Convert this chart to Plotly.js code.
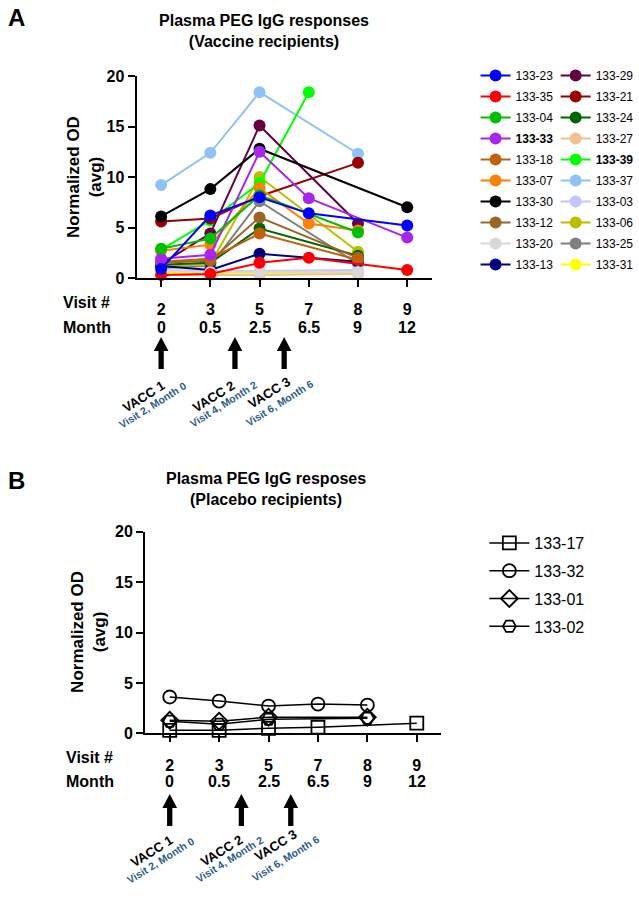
<!DOCTYPE html>
<html>
<head>
<meta charset="utf-8">
<script src="https://cdn.plot.ly/plotly-3.0.1.min.js"></script>
<style>html,body{margin:0;padding:0;background:#fff;}#chart{width:639px;height:899px;}</style>
</head>
<body>
<div id="chart"></div>
<script>
// ---------- DATA ----------
const visits = ['2', '3', '5', '7', '8', '9'];
const months = ['0', '0.5', '2.5', '6.5', '9', '12'];

// Panel A: vaccine recipients (null = not measured)
const idsA = ['133-23','133-35','133-04','133-33','133-18','133-07','133-30','133-12','133-20','133-13',
              '133-29','133-21','133-24','133-27','133-39','133-37','133-03','133-06','133-25','133-31'];
const boldA = ['133-33', '133-39'];
const v133_23 = [0.9, 6.2, 8.0, 6.4, null, 5.2];
const v133_35 = [0.3, 0.4, 1.5, 2.0, null, 0.8];
const v133_04 = [2.9, 3.9, 8.2, null, 4.5, null];
const v133_33 = [1.9, 2.3, 12.5, 7.9, null, 4.0];
const v133_18 = [1.6, 1.9, 4.4, null, 1.8, null];
const v133_07 = [2.7, 3.3, 8.9, 5.4, 4.7, null];
const v133_30 = [6.1, 8.8, 12.8, null, null, 7.0];
const v133_12 = [1.5, 1.7, 6.0, null, 2.0, null];
const v133_20 = [0.7, 0.6, 0.6, null, 0.6, null];
const v133_13 = [1.2, 0.8, 2.4, null, 1.6, null];
const v133_29 = [1.4, 4.4, 15.1, null, 5.4, null];
const v133_21 = [5.6, 5.9, 8.1, null, 11.4, null];
const v133_24 = [1.3, 1.5, 4.9, null, 2.2, null];
const v133_27 = [0.3, 0.3, 0.3, null, 0.4, null];
const v133_39 = [2.8, 5.7, 9.4, 18.4, null, null];
const v133_37 = [9.2, 12.4, 18.4, null, 12.3, null];
const v133_03 = [0.8, 0.7, 0.7, null, 0.8, null];
const v133_06 = [1.1, 1.4, 10.0, null, 2.6, null];
const v133_25 = [1.0, 1.2, 7.6, null, 1.4, null];
const v133_31 = [0.5, 0.5, 0.5, null, 0.5, null];
const valuesA = [v133_23, v133_35, v133_04, v133_33, v133_18, v133_07, v133_30, v133_12, v133_20, v133_13,
                 v133_29, v133_21, v133_24, v133_27, v133_39, v133_37, v133_03, v133_06, v133_25, v133_31];

// Panel B: placebo recipients
const idsB = ['133-17', '133-32', '133-01', '133-02'];
const v133_17 = [0.3, 0.3, 0.5, 0.6, null, 1.0];
const v133_32 = [3.6, 3.2, 2.7, 2.9, 2.8, null];
const v133_01 = [1.3, 1.2, 1.6, null, 1.6, null];
const v133_02 = [1.2, 0.9, 1.4, null, 1.5, null];
const valuesB = [v133_17, v133_32, v133_01, v133_02];

// Vaccination events
const vaccLabels = ['VACC 1', 'VACC 2', 'VACC 3'];
const vaccDetails = ['Visit 2, Month 0', 'Visit 4, Month 2', 'Visit 6, Month 6'];

// ---------- STYLE ----------
const colorsA = ['#0000FF','#FF0000','#00BF00','#A825EE','#C0600E','#FF8000','#000000','#9A6626','#D8D8D8','#000080',
                 '#660044','#990000','#006400','#F3BF8F','#00FF00','#8EC3F5','#C4C4FF','#BDBD00','#808080','#FFFF00'];
const symbolsB = ['square-open', 'circle-open', 'diamond-open', 'hexagon2-open'];
const FONT = 'Arial, "Liberation Sans", sans-serif';
const W = 639, H = 899;
const py = p => 1 - p / H;
const pxl = p => p / W;

const traces = [];
// first legend entries are drawn on top (reverse draw order); legend order kept via legendrank
for (let i = idsA.length - 1; i >= 0; i--) {
  const nm = boldA.includes(idsA[i]) ? '<b>' + idsA[i] + '</b>' : idsA[i];
  traces.push({
    type: 'scatter', mode: 'lines+markers', x: visits, y: valuesA[i], name: nm,
    connectgaps: true, cliponaxis: false,
    line: {color: colorsA[i], width: 2},
    marker: {color: colorsA[i], size: 12},
    xaxis: 'x', yaxis: 'y',
    legend: i < 10 ? 'legend' : 'legend2',
    legendgroup: 'g' + i, legendrank: i + 1
  });
}
for (let i = 0; i < idsB.length; i++) {
  traces.push({
    type: 'scatter', mode: 'lines+markers', x: visits, y: valuesB[i], name: idsB[i],
    connectgaps: true, cliponaxis: false,
    line: {color: '#000', width: 1.5},
    marker: {symbol: symbolsB[i], color: '#000', size: 13, line: {width: 1.8, color: '#000'}},
    xaxis: 'x2', yaxis: 'y2', legend: 'legend3', legendgroup: 'b' + i, legendrank: i + 1
  });
}

const tickFont = {family: FONT, size: 16, color: '#000', weight: 'bold'};
function xax(l, r, anchor) {
  return {domain: [pxl(l), pxl(r)], type: 'category', categoryarray: visits, range: [-0.5, 5.5], anchor: anchor,
    showline: true, linecolor: '#000', linewidth: 2, ticks: 'outside', ticklen: 7, tickwidth: 2,
    tickcolor: '#000', tickfont: tickFont, ticklabelstandoff: 9, showgrid: false, zeroline: false, fixedrange: true};
}
function yax(top, bot, anchor) {
  return {domain: [py(bot), py(top)], range: [0, 20], tickvals: [0, 5, 10, 15, 20],
    showline: true, linecolor: '#000', linewidth: 2, ticks: 'outside', ticklen: 7, tickwidth: 2,
    tickcolor: '#000', tickfont: tickFont, showgrid: false, zeroline: false, anchor: anchor, fixedrange: true};
}

const ann = [];
const shapes = [];
function panelText(cfg) {
  ann.push({xref: 'paper', yref: 'paper', x: pxl(cfg.letterX), y: py(cfg.letterY), text: cfg.letter,
    showarrow: false, xanchor: 'left', yanchor: 'middle', font: {family: FONT, size: 24, color: '#000', weight: 'bold'}});
  ann.push({xref: 'paper', yref: 'paper', x: pxl(cfg.yTitleX), y: py(cfg.yTitleY), text: 'Normalized OD<br>(avg)',
    textangle: -90, showarrow: false, xanchor: 'center', yanchor: 'middle',
    font: {family: FONT, size: 17, color: '#000', weight: 'bold'}});
  ann.push({xref: 'paper', yref: 'paper', x: pxl(cfg.rowX), y: py(cfg.visitY), text: 'Visit #', showarrow: false,
    xanchor: 'left', yanchor: 'middle', font: tickFont});
  ann.push({xref: 'paper', yref: 'paper', x: pxl(cfg.rowX), y: py(cfg.monthY), text: 'Month', showarrow: false,
    xanchor: 'left', yanchor: 'middle', font: tickFont});
  months.forEach((m, i) => ann.push({xref: cfg.xref, yref: 'paper', x: i, y: py(cfg.monthY), text: m,
    showarrow: false, xanchor: 'center', yanchor: 'middle', font: tickFont}));
  cfg.arrowX.forEach((ax, k) => {
    const hw = 7.5 / cfg.unit, sw = 2.7 / cfg.unit;
    const t = py(cfg.tipY), b = py(cfg.tipY + 14), e = py(cfg.tipY + 32);
    shapes.push({type: 'path', xref: cfg.xref, yref: 'paper', fillcolor: '#000', line: {width: 0},
      path: `M ${ax} ${t} L ${ax + hw} ${b} L ${ax + sw} ${b} L ${ax + sw} ${e} L ${ax - sw} ${e} L ${ax - sw} ${b} L ${ax - hw} ${b} Z`});
    ann.push({xref: cfg.xref, yref: 'paper', x: ax + cfg.labOff[k][0] / cfg.unit, y: py(cfg.tipY + 32 + cfg.labOff[k][1]),
      text: vaccLabels[k], textangle: -32, showarrow: false, xanchor: 'center', yanchor: 'middle',
      font: {family: FONT, size: 13, color: '#000', weight: 'bold'}});
    ann.push({xref: cfg.xref, yref: 'paper', x: ax + cfg.detOff[k][0] / cfg.unit, y: py(cfg.tipY + 32 + cfg.detOff[k][1]),
      text: vaccDetails[k], textangle: -32, showarrow: false, xanchor: 'center', yanchor: 'middle',
      font: {family: FONT, size: 10.5, color: '#2B5C8A', weight: 'bold'}});
  });
}
panelText({letter: 'A', letterX: 6, letterY: 18, yTitleX: 87, yTitleY: 177, rowX: 62, visitY: 302, monthY: 327,
  xref: 'x', unit: 50.4, arrowX: [0, 1.5, 2.5], tipY: 337,
  labOff: [[-18, 27], [-22, 27], [-15, 24]], detOff: [[-9, 36], [-12, 35], [-5, 34]]});
panelText({letter: 'B', letterX: 6, letterY: 480, yTitleX: 90, yTitleY: 632, rowX: 66, visitY: 757, monthY: 781,
  xref: 'x2', unit: 50.6, arrowX: [0, 1.45, 2.45], tipY: 794,
  labOff: [[-19, 25], [-20, 24], [-16, 19]], detOff: [[-9, 34], [-12, 33], [-5, 32]]});
ann.push({xref: 'paper', yref: 'paper', x: pxl(272), y: py(489), text: 'Plasma PEG IgG resposes<br>(Placebo recipients)',
  showarrow: false, xanchor: 'center', yanchor: 'middle', font: {family: FONT, size: 16, color: '#000', weight: 'bold'}});

const legFont = {family: FONT, size: 12, color: '#000'};
const layout = {
  width: W, height: H, autosize: false, margin: {l: 0, r: 0, t: 0, b: 0},
  paper_bgcolor: '#fff', plot_bgcolor: '#fff', showlegend: true,
  title: {text: 'Plasma PEG IgG responses<br>(Vaccine recipients)', x: pxl(264), xanchor: 'center',
    y: py(26), yanchor: 'middle', font: {family: FONT, size: 16, color: '#000', weight: 'bold'}},
  xaxis: xax(139.8, 442.2, 'y'), yaxis: yax(76, 278, 'x'),
  xaxis2: xax(148.5, 452.1, 'y2'), yaxis2: yax(531.7, 733.3, 'x2'),
  legend: {x: pxl(487), y: py(61), xanchor: 'left', yanchor: 'top', font: legFont, bgcolor: 'rgba(0,0,0,0)', tracegroupgap: 2},
  legend2: {x: pxl(569), y: py(61), xanchor: 'left', yanchor: 'top', font: legFont, bgcolor: 'rgba(0,0,0,0)', tracegroupgap: 2},
  legend3: {x: pxl(496), y: py(526), xanchor: 'left', yanchor: 'top', font: {family: FONT, size: 16, color: '#000'},
    bgcolor: 'rgba(0,0,0,0)', tracegroupgap: 4, itemwidth: 40},
  annotations: ann, shapes: shapes
};
Plotly.newPlot('chart', traces, layout, {staticPlot: true, displayModeBar: false});
</script>
</body>
</html>
